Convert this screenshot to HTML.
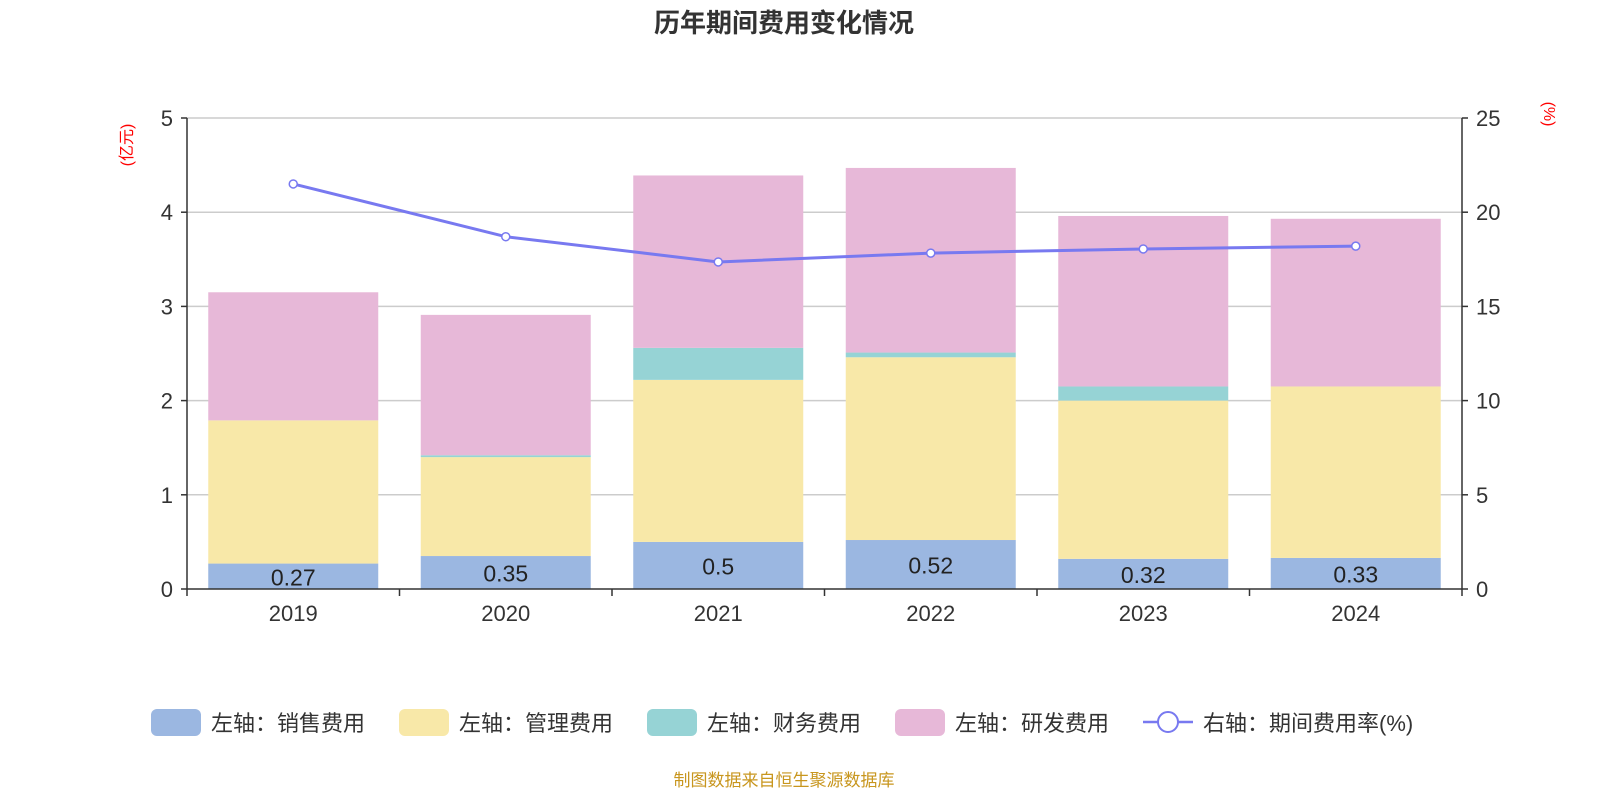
<!DOCTYPE html>
<html><head><meta charset="utf-8">
<style>
html,body{margin:0;padding:0;background:#fff;}
svg{display:block;font-family:"Liberation Sans","Noto Sans CJK SC",sans-serif;}
</style></head>
<body>
<svg id="chart" width="1600" height="800" viewBox="0 0 1600 800">
<text x="784" y="32" text-anchor="middle" font-size="26" font-weight="bold" fill="#333">历年期间费用变化情况</text>
<text transform="translate(132,145) rotate(-90)" text-anchor="middle" font-size="16" fill="#f00">(亿元)</text>
<text transform="translate(1544,114) rotate(90)" text-anchor="middle" font-size="16" fill="#f00">(%)</text>
<g id="grid"></g><g id="bars"></g><g id="axes"></g><g id="line"></g>
<g id="legend" font-size="22" fill="#333">
<rect x="151" y="709" width="50" height="27" rx="6" fill="#9bb7e1"/>
<text x="211" y="731">左轴：销售费用</text>
<rect x="399" y="709" width="50" height="27" rx="6" fill="#f8e8a8"/>
<text x="459" y="731">左轴：管理费用</text>
<rect x="647" y="709" width="50" height="27" rx="6" fill="#96d3d5"/>
<text x="707" y="731">左轴：财务费用</text>
<rect x="895" y="709" width="50" height="27" rx="6" fill="#e7b8d8"/>
<text x="955" y="731">左轴：研发费用</text>
<line x1="1143" y1="722" x2="1193" y2="722" stroke="#7879f0" stroke-width="2.5"/>
<circle cx="1168" cy="722" r="10" fill="#fff" stroke="#7879f0" stroke-width="2"/>
<text x="1203" y="731">右轴：期间费用率(%)</text>
</g>
<text x="784" y="786" text-anchor="middle" font-size="17" fill="#c8961e">制图数据来自恒生聚源数据库</text>
</svg>
<script>
const years = ["2019","2020","2021","2022","2023","2024"];
const sales = [0.27,0.35,0.5,0.52,0.32,0.33];
const mgmt = [1.52,1.05,1.72,1.94,1.68,1.82];
const finance = [0.0,0.02,0.34,0.05,0.15,0.0];
const rd = [1.36,1.49,1.83,1.96,1.81,1.78];
const rate = [21.5,18.7,17.36,17.83,18.05,18.2];
const leftTicks = [0,1,2,3,4,5];
const rightTicks = [0,5,10,15,20,25];

const NS="http://www.w3.org/2000/svg";
const x0=187,x1=1462,yTop=118,yBot=589;
const band=(x1-x0)/years.length;
const yL=v=>yBot-(v/5)*(yBot-yTop);
const yR=v=>yBot-(v/25)*(yBot-yTop);
const xC=i=>x0+band*(i+0.5);
function mk(tag,attrs,parent){const e=document.createElementNS(NS,tag);for(const k in attrs)e.setAttribute(k,attrs[k]);parent.appendChild(e);return e;}
const grid=document.getElementById('grid'),bars=document.getElementById('bars'),axes=document.getElementById('axes'),line=document.getElementById('line');

leftTicks.forEach((t,i)=>{
  const y=yL(t);
  if(t>0){const g=mk('line',{x1:x0,x2:x1,y1:y,y2:y,stroke:'#ccc','stroke-width':1.5},grid);
  
  }
  const tk=mk('line',{x1:x0-6,x2:x0,y1:y,y2:y,stroke:'#333','stroke-width':1.5},axes);
  
  
  const tx=mk('text',{x:x0-14,y:y+8,'text-anchor':'end','font-size':22,fill:'#333'},axes);
  tx.textContent=t;
  
  
});
rightTicks.forEach(t=>{
  const y=yR(t);
  const tk=mk('line',{x1:x1,x2:x1+6,y1:y,y2:y,stroke:'#333','stroke-width':1.5},axes);
  
  
  const tx=mk('text',{x:x1+14,y:y+8,'font-size':22,fill:'#333'},axes);
  tx.textContent=t;
  
  
});
let a=mk('line',{x1:x0,x2:x0,y1:yTop,y2:yBot,stroke:'#333','stroke-width':1.5},axes);


a=mk('line',{x1:x1,x2:x1,y1:yTop,y2:yBot,stroke:'#333','stroke-width':1.5},axes);


a=mk('line',{x1:x0,x2:x1,y1:yBot,y2:yBot,stroke:'#333','stroke-width':1.5},axes);


for(let i=0;i<=years.length;i++){
  const x=x0+band*i;
  const tk=mk('line',{x1:x,x2:x,y1:yBot,y2:yBot+7,stroke:'#333','stroke-width':1.5},axes);
  
  
}
const series=[[sales,'#9bb7e1','bar-sales'],[mgmt,'#f8e8a8','bar-mgmt'],[finance,'#96d3d5','bar-finance'],[rd,'#e7b8d8','bar-rd']];
const bw=170;
years.forEach((yr,i)=>{
  let acc=0;
  series.forEach(([arr,col,name])=>{
    const v=arr[i];
    const yt=yL(acc+v),yb=yL(acc);
    const r=mk('rect',{x:xC(i)-bw/2,y:yt,width:bw,height:Math.max(0,yb-yt),fill:col},bars);
    
    
    acc+=v;
  });
  const lb=mk('text',{x:xC(i),y:(yL(sales[i])+yBot)/2+9,'text-anchor':'middle','font-size':23,fill:'#222'},bars);
  lb.textContent=sales[i];
  
  
  const xl=mk('text',{x:xC(i),y:621,'text-anchor':'middle','font-size':22,fill:'#333'},axes);
  xl.textContent=yr;
  
  
});
const pts=rate.map((v,i)=>xC(i)+','+yR(v)).join(' ');
const pl=mk('polyline',{points:pts,fill:'none',stroke:'#7879f0','stroke-width':3},line);


rate.forEach((v,i)=>{
  const c=mk('circle',{cx:xC(i),cy:yR(v),r:4,fill:'#fff',stroke:'#7879f0','stroke-width':1.5},line);
  
  
});
</script>
</body></html>
